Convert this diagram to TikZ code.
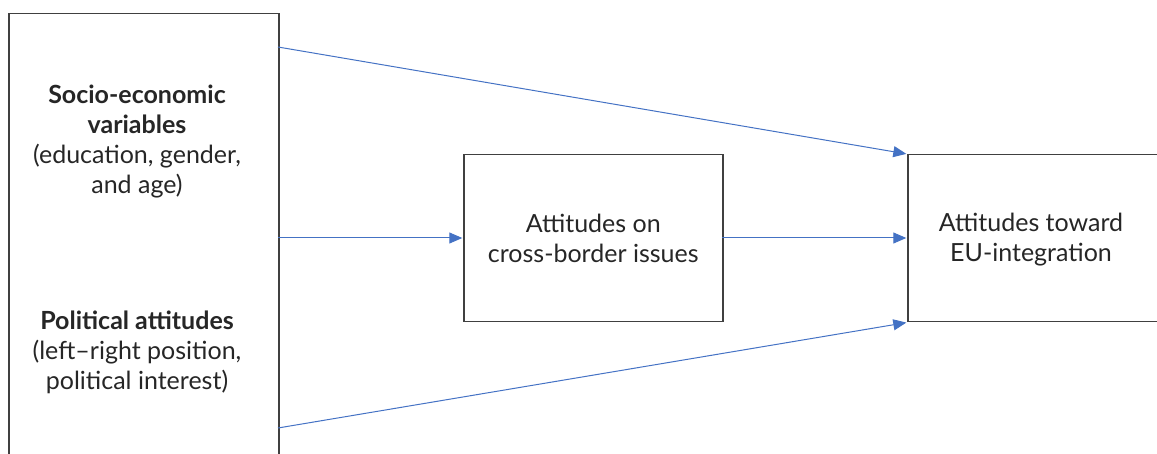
\documentclass[tikz,border=0pt]{standalone}
\usepackage{fontspec}
\setmainfont{Lato}
\usetikzlibrary{arrows.meta}

\definecolor{boxline}{HTML}{404040}
\definecolor{flow}{HTML}{4472C4}

\tikzset{
  box/.style={draw=boxline, line width=1.5pt, rectangle, inner sep=0pt},
  label/.style={align=center, text=black!85, font=\fontsize{25}{30}\selectfont, inner sep=0pt},
  flowarrow/.style={draw=flow, line width=1pt, -{Triangle[length=13pt,width=11pt]}, shorten >=0.7pt}
}

\begin{document}
\begin{tikzpicture}[x=1pt, y=-1pt]
  \useasboundingbox (0,0) rectangle (1157,454);
  \clip (0,0) rectangle (1157,454);

  % boxes
  \node[box, anchor=north west, minimum width=270pt, minimum height=470pt] (src) at (8,13) {};
  \node[box, anchor=north west, minimum width=259pt, minimum height=167pt] (mid) at (463,154) {};
  \node[box, anchor=north west, minimum width=270pt, minimum height=167pt] (out) at (907,154) {};

  % texts
  \node[label] (socio) at (137,142) {\textbf{Socio-economic}\\\textbf{variables}\\(education, gender,\\and age)};
  \node[label] (polit) at (137,352) {\textbf{Political attitudes}\\(left–right position,\\political interest)};
  \node[label] (midtext) at (mid.center) {Attitudes on\\cross-border issues};
  \node[label] (outtext) at (1031,240) {Attitudes toward\\EU-integration};

  % arrow end points on the box borders
  \coordinate (s1) at (278,47);
  \coordinate (s2) at (278,238);
  \coordinate (s3) at (278,428);
  \coordinate (m1) at (463,238);
  \coordinate (m2) at (722,238);
  \coordinate (o1) at (out.north west);
  \coordinate (o2) at (907,238);
  \coordinate (o3) at (out.south west);

  \draw[flowarrow] (s1) -- (o1);
  \draw[flowarrow] (s2) -- (m1);
  \draw[flowarrow] (m2) -- (o2);
  \draw[flowarrow] (s3) -- (o3);
\end{tikzpicture}
\end{document}
